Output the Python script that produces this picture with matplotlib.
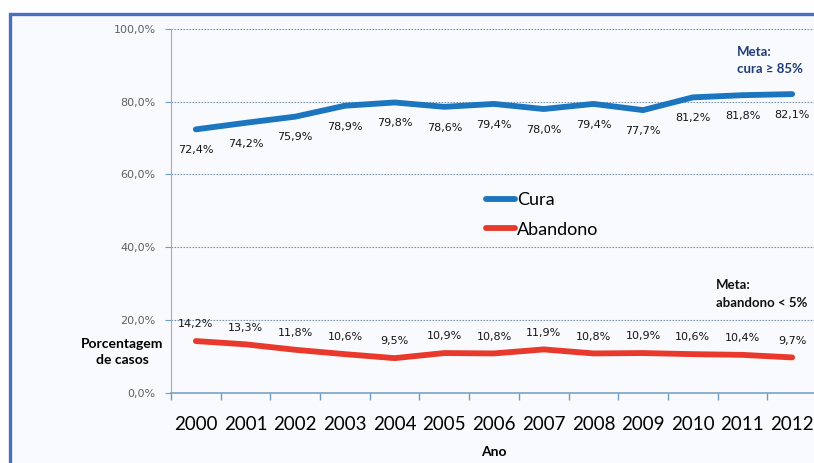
import matplotlib
matplotlib.use("Agg")
import matplotlib.pyplot as plt
from matplotlib.patches import Rectangle
from matplotlib.ticker import FuncFormatter

# Taxas de cura e abandono por ano
anos = ["2000", "2001", "2002", "2003", "2004", "2005", "2006",
        "2007", "2008", "2009", "2010", "2011", "2012"]
cura = [72.4, 74.2, 75.9, 78.9, 79.8, 78.6, 79.4, 78.0, 79.4, 77.7, 81.2, 81.8, 82.1]
abandono = [14.2, 13.3, 11.8, 10.6, 9.5, 10.9, 10.8, 11.9, 10.8, 10.9, 10.6, 10.4, 9.7]
y_ticks = [0, 20, 40, 60, 80, 100]

AZUL = "#1b75bf"
VERMELHO = "#e8392c"
EIXO = "#6f9cc0"
W, H = 814, 463

fig = plt.figure(figsize=(W / 100, H / 100), dpi=100, facecolor="white")

# moldura azul do quadro
fig.patches.append(Rectangle((10 / W, -0.05), 1.1, 1 - 14.5 / H + 0.05,
                             transform=fig.transFigure, facecolor="#f9fafd",
                             edgecolor="#4a6fc2", lw=2.4, zorder=-10))

ax = fig.add_axes([171 / W, (H - 392.7) / H, 646 / W, 363.7 / H])
ax.set_facecolor("none")
x = list(range(len(anos)))

ax.plot(x, cura, color=AZUL, lw=4.2, solid_capstyle="round", label="Cura", zorder=3)
ax.plot(x, abandono, color=VERMELHO, lw=4.2, solid_capstyle="round", label="Abandono", zorder=3)

fmt = lambda v: f"{v:.1f}%".replace(".", ",")
for xi, v in zip(x, cura):
    ax.annotate(fmt(v), (xi, v), xytext=(0, -15), textcoords="offset points",
                ha="center", va="center", fontsize=8, color="#151515")
for xi, v in zip(x, abandono):
    ax.annotate(fmt(v), (xi, v), xytext=(0, 12), textcoords="offset points",
                ha="center", va="center", fontsize=8, color="#151515")

ax.set_xlim(-0.5, len(anos) - 0.5)
ax.set_ylim(0, 100)
ax.set_yticks(y_ticks)
ax.yaxis.set_major_formatter(FuncFormatter(lambda v, _: f"{v:.1f}%".replace(".", ",")))
ax.tick_params(axis="y", labelsize=8, labelcolor="#606060", color=EIXO, length=4,
               width=0.8, pad=7)
for v in y_ticks[1:]:
    ax.axhline(v, color="#7a95ad", lw=0.8, ls=(0, (1.5, 1.2)), zorder=1)

# marcas nas divisas entre anos, rótulos no centro
ax.set_xticks([i - 0.5 for i in range(len(anos) + 1)])
ax.set_xticklabels([])
ax.set_xticks(x, minor=True)
ax.set_xticklabels(anos, minor=True, fontsize=13.5, family="Lato")
ax.tick_params(axis="x", which="major", color=EIXO, length=5, width=1)
ax.tick_params(axis="x", which="minor", length=0, pad=17)

for s in ["top", "right"]:
    ax.spines[s].set_visible(False)
ax.spines["left"].set_color("#8fb0c8")
ax.spines["bottom"].set_color(EIXO)
ax.spines["bottom"].set_linewidth(1.1)

ax.legend(loc="upper left", bbox_to_anchor=(470 / W, 1 - 176 / H),
          bbox_transform=fig.transFigure, frameon=False, handlelength=1.6,
          handletextpad=0.1, labelspacing=0.75, prop={"family": "Lato", "size": 13})

fig.text(737 / W, 1 - 52 / H, "Meta:", family="Lato", fontweight="bold",
         fontsize=9.5, color="#1f3c78", va="center")
fig.text(737 / W, 1 - 69 / H, "cura ≥ 85%", family="Lato", fontweight="bold",
         fontsize=9.5, color="#1f3c78", va="center")
fig.text(716 / W, 1 - 285 / H, "Meta:", family="Lato", fontweight="bold",
         fontsize=9.5, color="#111111", va="center")
fig.text(716 / W, 1 - 303 / H, "abandono < 5%", family="Lato", fontweight="bold",
         fontsize=9.5, color="#111111", va="center")
fig.text(122 / W, 1 - 352 / H, "Porcentagem\nde casos", family="Lato", fontweight="bold",
         fontsize=10, ha="center", va="center", linespacing=1.3)
fig.text(494 / W, 1 - 452 / H, "Ano", family="Lato", fontweight="bold",
         fontsize=10, ha="center", va="center")

fig.savefig("out.png", dpi=100, facecolor="white")
